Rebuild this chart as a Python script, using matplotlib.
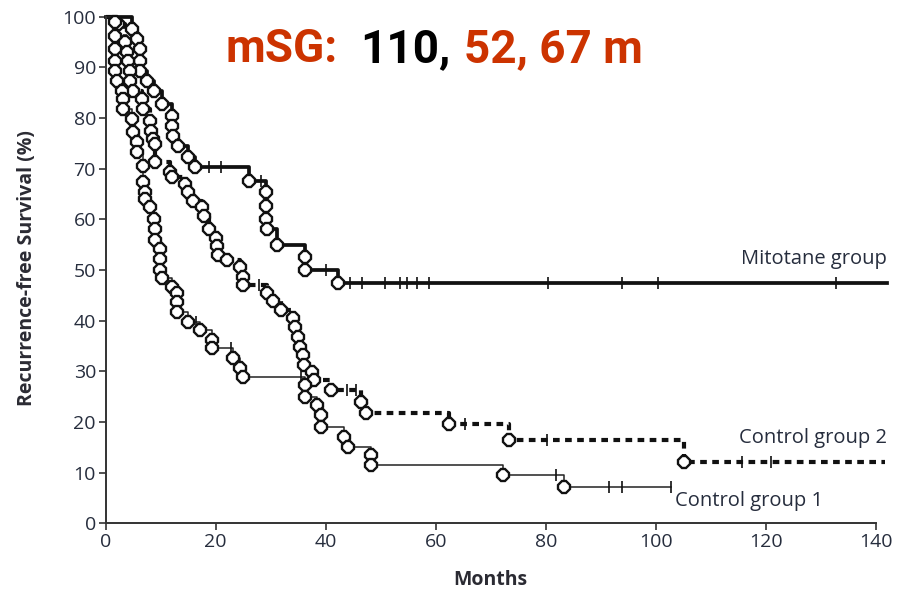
import matplotlib
matplotlib.use('Agg')
import matplotlib.pyplot as plt

# Kaplan-Meier curves: event times (months) and survival after each event (%)
mito_t = [4.8, 5.7, 6.3, 6.3, 6.3, 7.6, 8.7, 10.3, 12.1, 12.1, 12.3, 13.2, 15.0, 16.3,
          26.0, 29.1, 29.1, 29.1, 29.4, 31.2, 36.3, 36.3, 42.2]
mito_s = [97.6, 95.6, 93.7, 91.3, 89.3, 87.3, 85.3, 82.8, 80.4, 78.4, 76.5, 74.5, 72.3, 70.3,
          67.5, 65.3, 62.6, 60.0, 58.0, 55.0, 52.5, 50.1, 47.5]
mito_cens_t = [18.7, 21.0, 28.2, 40.0, 44.5, 46.6, 50.8, 53.6, 54.8, 56.6, 58.7, 80.5, 93.8, 100.5, 132.7]
mito_cens_s = [70.3, 70.3, 67.5, 50.1, 47.5, 47.5, 47.5, 47.5, 47.5, 47.5, 47.5, 47.5, 47.5, 47.5, 47.5]

ctrl2_t = [2.3, 3.6, 3.9, 4.1, 4.5, 4.5, 5.0, 6.6, 6.8, 8.1, 8.3, 8.6, 9.0, 9.0,
           11.7, 12.1, 14.5, 15.0, 15.8, 17.6, 17.8, 18.7, 20.0, 20.3, 20.5, 22.1, 24.5, 25.0, 25.0,
           29.4, 30.5, 31.8, 34.0, 34.5, 34.9, 35.4, 35.8, 36.0, 37.6, 37.8, 40.9, 46.4, 47.3,
           62.4, 73.3, 105.2]
ctrl2_s = [98.6, 95.0, 93.0, 91.3, 89.3, 87.3, 85.3, 83.8, 81.8, 79.4, 77.4, 75.8, 74.9, 71.3,
           69.3, 68.3, 67.0, 65.3, 63.6, 62.4, 60.6, 58.0, 56.4, 54.7, 53.0, 52.0, 50.5, 48.7, 47.1,
           45.5, 43.8, 42.2, 40.6, 38.8, 36.8, 34.9, 33.3, 31.3, 29.9, 28.3, 26.3, 24.0, 21.8,
           19.6, 16.4, 12.1]
ctrl2_cens_t = [27.8, 43.8, 45.6, 65.4, 80.2, 115.6, 121.0]
ctrl2_cens_s = [47.1, 26.3, 26.3, 19.6, 16.4, 12.1, 12.1]

ctrl1_t = [1.7, 1.7, 1.7, 1.7, 1.7, 2.1, 3.0, 3.2, 3.2, 4.8, 5.0, 5.7, 5.7, 6.8, 6.8, 7.2, 7.2,
           8.1, 8.7, 9.0, 9.0, 9.9, 9.9, 9.9, 10.3, 12.1, 13.0, 13.0, 13.0, 15.0, 17.2, 19.4, 19.4,
           23.2, 24.5, 25.0, 36.3, 36.3, 38.5, 39.1, 39.1, 43.3, 44.0, 48.2, 48.2, 72.2, 83.3]
ctrl1_s = [99.0, 96.2, 93.7, 91.3, 89.3, 87.3, 85.3, 83.8, 81.8, 79.8, 77.2, 75.2, 73.3, 70.5, 67.3,
           65.3, 64.0, 62.4, 60.0, 58.0, 56.0, 54.1, 52.1, 50.1, 48.5, 46.7, 45.5, 43.6, 41.8, 39.8,
           38.2, 36.2, 34.7, 32.7, 30.7, 28.9, 27.3, 25.0, 23.4, 21.4, 19.1, 17.1, 15.1, 13.5, 11.5,
           9.5, 7.1]
ctrl1_cens_t = [16.5, 22.8, 35.6, 81.8, 91.5, 93.8, 102.7]
ctrl1_cens_s = [39.8, 34.7, 28.9, 9.5, 7.1, 7.1, 7.1]

curve_end = [142.0, 141.6, 102.7]
group_names = ['Mitotane group', 'Control group 2', 'Control group 1']
headline = [('mSG:', '#cc3300'), ('110,', 'black'), ('52, 67 m', '#cc3300')]

navy = '#262d3d'
fig = plt.figure(figsize=(9.07, 5.92), dpi=100)
ax = fig.add_axes([0.1165, 0.116, 0.849, 0.8558])

styles = [dict(color='#111111', lw=2.7, ls='-'),
          dict(color='#111111', lw=3.0, ls=(0, (1.6, 1.3))),
          dict(color='#222222', lw=1.1, ls='-')]
curves = [(mito_t, mito_s, mito_cens_t, mito_cens_s),
          (ctrl2_t, ctrl2_s, ctrl2_cens_t, ctrl2_cens_s),
          (ctrl1_t, ctrl1_s, ctrl1_cens_t, ctrl1_cens_s)]

for (et, es, ct, cs), end, st in zip(curves, curve_end, styles):
    xs = [0] + et + [end]
    ys = [100] + es + [es[-1]]
    ax.plot(xs, ys, drawstyle='steps-post', clip_on=False, zorder=2, **st)
    ax.plot(ct, cs, ls='none', marker='|', ms=8, mew=1.2, color='#111111',
            clip_on=False, zorder=3)
    ax.plot(et, es, ls='none', marker='8', ms=8.6, mfc='white', mec='#111111',
            mew=1.7, clip_on=False, zorder=4)

ax.set_xlim(0, 140)
ax.set_ylim(0, 100)
ax.set_xticks(range(0, 141, 20))
ax.set_yticks(range(0, 101, 10))
for side in ['top', 'right']:
    ax.spines[side].set_visible(False)
for side in ['left', 'bottom']:
    ax.spines[side].set_linewidth(1.4)
    ax.spines[side].set_color('#333333')
ax.tick_params(direction='out', length=5, width=1.2, color='#333333',
               labelsize=14, labelcolor=navy, pad=2)
for lab in ax.get_xticklabels() + ax.get_yticklabels():
    lab.set_fontfamily('Open Sans')

ax.set_xlabel('Months', fontsize=14, fontweight='bold', color='#2b2b33',
              family='Open Sans', labelpad=14)
fig.text(27 / 907, 1 - 268 / 592, 'Recurrence-free Survival (%)', rotation=90,
         ha='center', va='center', fontsize=14, fontweight='bold',
         color='#2b2b33', family='Open Sans')

# group labels
ax.text(142, 52.2, group_names[0], ha='right', va='center', fontsize=14.5,
        color=navy, family='Open Sans', clip_on=False)
ax.text(142, 16.9, group_names[1], ha='right', va='center', fontsize=14.5,
        color=navy, family='Open Sans', clip_on=False)
ax.text(103.5, 4.5, group_names[2], ha='left', va='center', fontsize=14.5,
        color=navy, family='Open Sans', clip_on=False)

# headline with mixed colours, laid out piece by piece
fig.canvas.draw()
renderer = fig.canvas.get_renderer()
x_px = 226
gaps = [22, 13, 0]
for (piece, col), gap in zip(headline, gaps):
    t = fig.text(x_px / 907, 1 - 62 / 592, piece, color=col, fontsize=33,
                 fontweight='bold', family=['Roboto', 'DejaVu Sans'], va='baseline')
    bb = t.get_window_extent(renderer)
    x_px = bb.x1 + gap

fig.savefig('out.png', dpi=100)
